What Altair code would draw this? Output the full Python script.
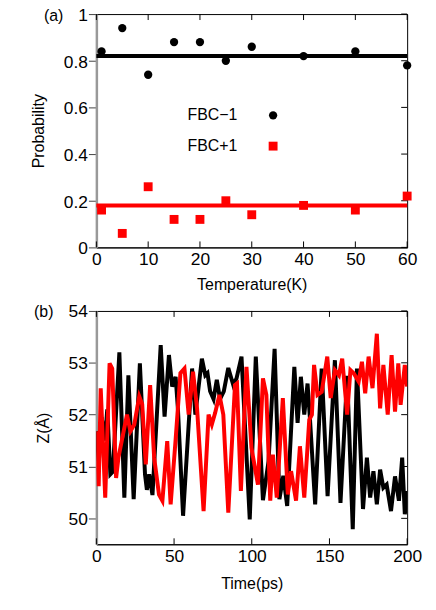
import altair as alt
import pandas as pd

# ---------------- data: panel (a) ----------------
temperature = [1, 5, 10, 15, 20, 25, 30, 40, 50, 60]
prob_fbc_minus = [0.84, 0.94, 0.74, 0.88, 0.88, 0.80, 0.86, 0.82, 0.84, 0.78]
prob_fbc_plus = [0.16, 0.06, 0.26, 0.12, 0.12, 0.20, 0.14, 0.18, 0.16, 0.22]
mean_fbc_minus = 0.82
mean_fbc_plus = 0.18
series_names = ["FBC−1", "FBC+1"]
temp_ticks = [0, 10, 20, 30, 40, 50, 60]
prob_ticks = [0, 0.2, 0.4, 0.6, 0.8, 1.0]

# ---------------- data: panel (b) ----------------
time_black = [0, 1.6, 3.4, 5.5, 7.0, 9.0, 10.6, 14.8, 18.0, 20.6, 24.0, 28.0, 31.3, 32.5,
              34.0, 36.1, 41.4, 43.9, 46.7, 48.8, 51.0, 52.5, 55.8, 61.6, 63.7, 67.9, 70.1,
              71.5, 73.2, 75.4, 77.5, 79.6, 82.0, 84.9, 88.1, 90.2, 93.4, 98.7, 102.6, 107.2,
              110.8, 114.7, 117.8, 120.3, 122.8, 127.4, 129.5, 131.6, 133.8, 135.9, 137.5,
              140.8, 145.0, 148.8, 153.5, 157.1, 161.4, 165.0, 167.7, 171.6, 174.1, 176.2,
              178.3, 180.5, 182.6, 184.7, 186.8, 189.6, 192.2, 194.7, 196.8, 198.5, 200]
z_black = [51.68, 51.1, 51.95, 51.5, 52.1, 50.85, 50.9, 53.2, 50.4, 52.76, 50.37, 52.99, 50.85, 50.55,
           50.85, 50.45, 53.34, 51.96, 53.15, 52.54, 52.73, 52.1, 50.05, 52.89, 52.0, 53.08, 52.76,
           52.8, 52.45, 52.3, 52.67, 52.3, 52.45, 52.9, 52.57, 52.7, 53.12, 49.98, 53.12, 50.35,
           51.1, 53.27, 50.37, 50.82, 50.24, 52.92, 51.84, 52.73, 52.0, 52.6, 51.9,
           50.27, 52.89, 50.43, 53.05, 50.3, 52.75, 49.79, 52.89, 50.18, 51.17, 50.4,
           50.91, 50.27, 50.94, 50.59, 50.65, 50.14, 50.81, 50.34, 51.17, 50.08, 50.53]

time_red = [0, 1.5, 2.8, 5.7, 8.5, 10.2, 12.7, 14.2, 16.3, 19.7, 21.9, 24.4, 27.6, 29.5, 31.8,
            34.6, 37.2, 40.3, 42.5, 45.6, 47.8, 51.0, 54.1, 56.7, 59.4, 62.2, 64.8, 69.0, 72.2,
            74.3, 76.4, 79.2, 81.7, 84.9, 89.2, 90.5, 93.0, 96.6, 99.8, 100.9, 104.0, 107.2,
            109.4, 111.9, 113.6, 116.1, 120.0, 123.2, 125.3, 128.5, 131.0, 133.8, 137.0, 138.7,
            140.1, 142.3, 145.0, 148.6, 150.8, 153.5, 156.1, 158.2, 161.4, 163.5, 165.6, 168.8,
            170.9, 173.0, 175.2, 177.7, 180.5, 182.6, 184.7, 187.5, 190.0, 192.2, 194.3, 195.8,
            198.5, 200]
z_red = [51.68, 50.62, 52.51, 50.4, 52.99, 52.89, 50.78, 51.17, 51.49, 52.0, 51.68, 51.81, 52.35, 52.2, 51.04,
         52.57, 51.17, 50.46, 50.34, 51.49, 50.27, 51.52, 52.8, 52.89, 52.0, 52.83, 52.12, 50.14, 52.0,
         51.81, 52.03, 52.38, 52.0, 50.11, 52.57, 52.6, 50.53, 52.92, 51.36, 51.17, 50.65, 52.7,
         52.38, 50.34, 51.23, 50.4, 52.32, 50.46, 50.91, 50.34, 51.39, 50.4, 51.9, 52.0,
         52.96, 52.38, 52.44, 53.12, 52.32, 52.86, 52.76, 53.08, 52.0, 52.86, 52.8, 52.64,
         53.02, 52.41, 53.12, 52.51, 53.56, 52.12, 52.96, 52.0, 53.15, 52.06, 52.99, 52.19,
         52.96, 52.54]
time_ticks = [0, 50, 100, 150, 200]
z_ticks = [50, 51, 52, 53, 54]

W, H = 313, 235
FONT = "Liberation Sans"
RED = "#ff0000"
TICK = 6

# ================= panel (a) =================
xs_a = alt.Scale(domain=[0, 60], nice=False, zero=False)
ys_a = alt.Scale(domain=[0, 1], nice=False, zero=False)

x_axis_a = alt.Axis(values=temp_ticks, title="Temperature(K)", tickSize=0, ticks=False,
                    labelPadding=3, titleY=29, grid=False, domainColor="black", domainWidth=1,
                    labelFlush=False, format="d")
y_axis_a = alt.Axis(values=prob_ticks, title="Probability", tickSize=8, labelPadding=1,
                    labelOffset=1.5, titleX=-50, titleY=H / 2, grid=False, format="~r",
                    domainColor="#999999", domainWidth=2.5, tickColor="#444444")

df_a = pd.DataFrame({"T": temperature, "minus": prob_fbc_minus, "plus": prob_fbc_plus})
df_mean = pd.DataFrame({"T": [0, 60], "m1": [mean_fbc_minus] * 2, "m2": [mean_fbc_plus] * 2})

X_a = alt.X("T:Q", scale=xs_a, axis=x_axis_a)

mean_minus = alt.Chart(df_mean).mark_line(strokeWidth=4, color="black").encode(
    x=X_a, y=alt.Y("m1:Q", scale=ys_a, axis=y_axis_a))
mean_plus = alt.Chart(df_mean).mark_line(strokeWidth=4, color=RED).encode(
    x=X_a, y=alt.Y("m2:Q", scale=ys_a, axis=y_axis_a))

df_tx_a = pd.DataFrame({"T": temp_ticks})
df_ty_a = pd.DataFrame({"P": prob_ticks})
ticks_bottom_a = alt.Chart(df_tx_a).mark_rule(color="black").encode(
    x=X_a, y=alt.value(H), y2=alt.value(H - TICK))
ticks_top_a = alt.Chart(df_tx_a).mark_rule(color="black").encode(
    x=X_a, y=alt.value(0), y2=alt.value(TICK))
ticks_right_a = alt.Chart(df_ty_a).mark_rule(color="black").encode(
    y=alt.Y("P:Q", scale=ys_a, axis=y_axis_a), x=alt.value(W), x2=alt.value(W - TICK))

pts_minus = alt.Chart(df_a).mark_point(filled=True, shape="circle", size=70, color="black",
                                       opacity=1).encode(
    x=X_a, y=alt.Y("minus:Q", scale=ys_a, axis=y_axis_a))
pts_plus = alt.Chart(df_a).mark_point(filled=True, shape="square", size=80, color=RED,
                                      opacity=1).encode(
    x=X_a, y=alt.Y("plus:Q", scale=ys_a, axis=y_axis_a))

leg_df1 = pd.DataFrame({"label": [series_names[0]]})
leg_df2 = pd.DataFrame({"label": [series_names[1]]})
leg_text1 = alt.Chart(leg_df1).mark_text(align="right", baseline="middle", fontSize=16,
                                         font=FONT, color="black", x=142, y=102).encode(text="label:N")
leg_text2 = alt.Chart(leg_df2).mark_text(align="right", baseline="middle", fontSize=16,
                                         font=FONT, color="black", x=142, y=133).encode(text="label:N")
leg_sym1 = alt.Chart(leg_df1).mark_point(filled=True, shape="circle", size=70, color="black",
                                         opacity=1, x=178, y=102).encode(detail="label:N")
leg_sym2 = alt.Chart(leg_df2).mark_point(filled=True, shape="square", size=80, color=RED,
                                         opacity=1, x=178, y=133).encode(detail="label:N")

lab_a = alt.Chart(pd.DataFrame({"l": ["(a)"]})).mark_text(
    align="center", baseline="middle", fontSize=16, font=FONT, color="black", x=-43, y=2
).encode(text="l:N")

panel_a = alt.layer(
    mean_minus, mean_plus, ticks_bottom_a, ticks_top_a, ticks_right_a, pts_minus, pts_plus,
    leg_text1, leg_text2, leg_sym1, leg_sym2, lab_a
).properties(width=W, height=H)

# ================= panel (b) =================
xs_b = alt.Scale(domain=[0, 200], nice=False, zero=False)
ys_b = alt.Scale(domain=[49.5, 54], nice=False, zero=False)

x_axis_b = alt.Axis(values=time_ticks, title="Time(ps)", tickSize=0, ticks=False,
                    labelPadding=3, titleY=32, grid=False, domainColor="black", domainWidth=1,
                    labelFlush=False, format="d")
y_axis_b = alt.Axis(values=z_ticks, title="Z(Å)", tickSize=8, labelPadding=1, labelOffset=1,
                    titleX=-45, titleY=H / 2, grid=False, domainColor="#999999", format="d",
                    domainWidth=2.5, tickColor="#444444")

X_b = alt.X("t:Q", scale=xs_b, axis=x_axis_b)

df_black = pd.DataFrame({"t": time_black, "z": z_black})
df_red = pd.DataFrame({"t": time_red, "z": z_red})

line_black = alt.Chart(df_black).mark_line(color="black", strokeWidth=4, clip=True).encode(
    x=X_b, y=alt.Y("z:Q", scale=ys_b, axis=y_axis_b))
line_red = alt.Chart(df_red).mark_line(color=RED, strokeWidth=4, clip=True).encode(
    x=X_b, y=alt.Y("z:Q", scale=ys_b, axis=y_axis_b))

df_tx_b = pd.DataFrame({"t": time_ticks})
df_ty_b = pd.DataFrame({"z": z_ticks})
ticks_bottom_b = alt.Chart(df_tx_b).mark_rule(color="black").encode(
    x=X_b, y=alt.value(H), y2=alt.value(H - TICK))
ticks_top_b = alt.Chart(df_tx_b).mark_rule(color="black").encode(
    x=X_b, y=alt.value(0), y2=alt.value(TICK))
ticks_right_b = alt.Chart(df_ty_b).mark_rule(color="black").encode(
    y=alt.Y("z:Q", scale=ys_b, axis=y_axis_b), x=alt.value(W), x2=alt.value(W - TICK))

lab_b = alt.Chart(pd.DataFrame({"l": ["(b)"]})).mark_text(
    align="center", baseline="middle", fontSize=16, font=FONT, color="black", x=-53, y=1
).encode(text="l:N")

panel_b = alt.layer(
    ticks_bottom_b, ticks_top_b, ticks_right_b, line_black, line_red, lab_b
).properties(width=W, height=H)

chart = alt.vconcat(panel_a, panel_b, spacing=64, bounds="flush").properties(
    padding={"left": 22, "top": -4, "right": 5, "bottom": 5},
).configure_view(
    stroke="black", strokeWidth=1
).configure_axis(
    labelFont=FONT, labelFontSize=17.5, labelColor="black",
    titleFont=FONT, titleFontSize=16, titleFontWeight="normal", titleColor="black",
)

chart.save("out.html", embed_options={"renderer": "svg", "actions": False})
